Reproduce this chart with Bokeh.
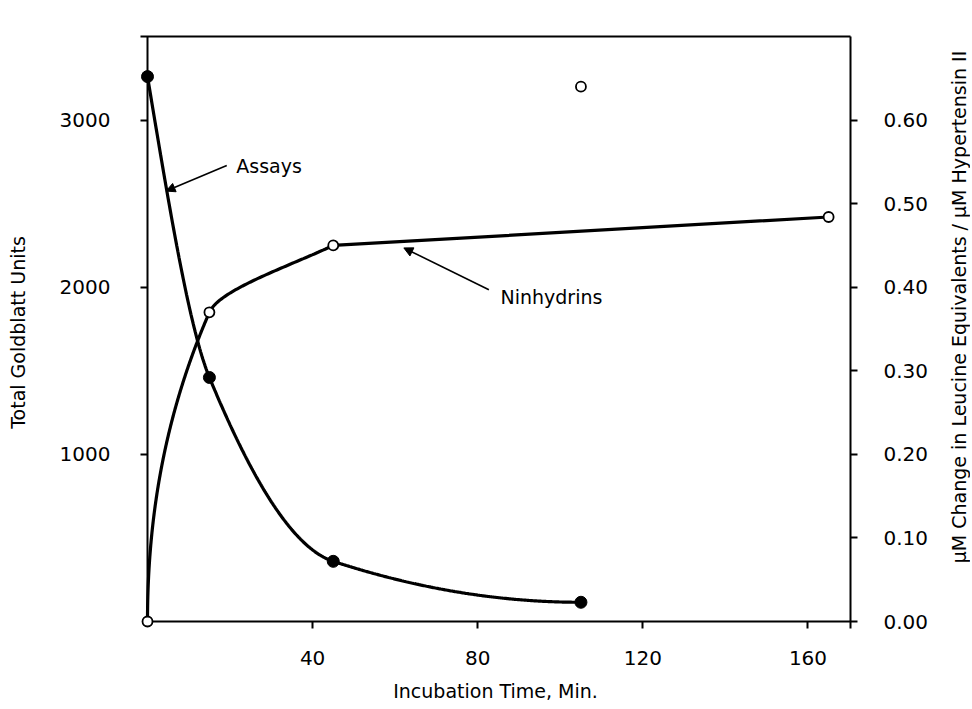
import numpy as np
from bokeh.plotting import figure
from bokeh.layouts import row
from bokeh.models import Range1d, LinearAxis, FixedTicker, NumeralTickFormatter, Arrow, NormalHead, Label
from bokeh.embed import file_html
from bokeh.resources import INLINE

# ---- data ----
assay_time = [0, 15, 45, 105]
assay_units = [3260, 1460, 360, 115]
nin_time = [0, 15, 45, 105, 165]
nin_change = [0.0, 0.37, 0.45, 0.64, 0.484]
x_ticks = [40, 80, 120, 160]
left_ticks = [1000, 2000, 3000]
right_ticks = [0.0, 0.1, 0.2, 0.3, 0.4, 0.5, 0.6]
right_title = "\u03bcM Change in Leucine Equivalents / \u03bcM Hypertensin II"

XMAX, YMAX, RMAX = 170.3, 3500.0, 0.70
FONT = "DejaVu Sans"

# layout (pixels)
BOX_W, BOX_H, PAD = 703, 585, 7     # drawn box size, and space left/below it so edge markers are not cut
X0 = -PAD * XMAX / BOX_W
Y0 = -PAD * YMAX / BOX_H
R0 = -PAD * RMAX / BOX_H
STRIP_W, STRIP_H = 38, 700          # narrow strip at the right that carries the right-hand title


def pchip(x, y, xq):
    x = np.asarray(x, float); y = np.asarray(y, float); xq = np.asarray(xq, float)
    h = np.diff(x); d = np.diff(y) / h
    n = len(x); m = np.zeros(n)
    for k in range(1, n - 1):
        if d[k - 1] * d[k] > 0:
            w1 = 2 * h[k] + h[k - 1]; w2 = h[k] + 2 * h[k - 1]
            m[k] = (w1 + w2) / (w1 / d[k - 1] + w2 / d[k])

    def end(h0, h1, d0, d1):
        mm = ((2 * h0 + h1) * d0 - h0 * d1) / (h0 + h1)
        if np.sign(mm) != np.sign(d0):
            return 0.0
        if np.sign(d0) != np.sign(d1) and abs(mm) > 3 * abs(d0):
            return 3 * d0
        return mm
    m[0] = end(h[0], h[1], d[0], d[1])
    m[-1] = end(h[-1], h[-2], d[-1], d[-2])
    idx = np.clip(np.searchsorted(x, xq) - 1, 0, n - 2)
    hh = h[idx]; t = (xq - x[idx]) / hh
    h00 = 2 * t**3 - 3 * t**2 + 1; h10 = t**3 - 2 * t**2 + t
    h01 = -2 * t**3 + 3 * t**2; h11 = t**3 - t**2
    return h00 * y[idx] + h10 * hh * m[idx] + h01 * y[idx + 1] + h11 * hh * m[idx + 1]


# smooth assay curve through the assay points
ax = np.linspace(assay_time[0], assay_time[-1], 400)
ay = pchip(assay_time, assay_units, ax)

# ninhydrin curve: smooth rise through first three points, then straight to last point
ny_param = np.linspace(nin_change[0], nin_change[2], 400)
nx = pchip(nin_change[:3], nin_time[:3], ny_param)
nin_curve_x = list(nx) + [nin_time[4]]
nin_curve_y = list(ny_param) + [nin_change[4]]

p = figure(frame_width=BOX_W + PAD, frame_height=BOX_H + PAD,
           output_backend="svg", toolbar_location=None,
           x_range=Range1d(X0, XMAX), y_range=Range1d(Y0, YMAX),
           min_border_left=140, min_border_right=82, min_border_top=36, min_border_bottom=70,
           x_axis_label="Incubation Time, Min.", y_axis_label="Total Goldblatt Units")
p.extra_y_ranges = {"nin": Range1d(R0, RMAX)}
p.grid.visible = False
p.outline_line_color = None
p.background_fill_color = "white"
p.border_fill_color = "white"

baxis = p.below[0]
laxis = p.left[0]
raxis = LinearAxis(y_range_name="nin")
p.add_layout(raxis, "right")
taxis = LinearAxis(ticker=FixedTicker(ticks=[]))
p.add_layout(taxis, "above")

baxis.ticker = FixedTicker(ticks=x_ticks)
laxis.ticker = FixedTicker(ticks=left_ticks)
raxis.ticker = FixedTicker(ticks=right_ticks)
raxis.formatter = NumeralTickFormatter(format="0.00")

for a in [baxis, laxis, raxis, taxis]:
    a.axis_line_width = 2
    a.axis_line_color = "black"
    a.major_tick_line_width = 2
    a.minor_tick_line_color = None
    a.major_label_text_font = FONT
    a.major_label_text_font_size = "20px"
    a.major_label_text_font_style = "normal"
    a.major_label_text_color = "black"
    a.axis_label_text_font = FONT
    a.axis_label_text_font_size = "19px"
    a.axis_label_text_font_style = "normal"
    a.axis_label_text_color = "black"

# left & bottom axes sit PAD px outside the box: ticks point inward up to the box line
for a in [baxis, laxis]:
    a.axis_line_color = None
    a.major_tick_in = PAD
    a.major_tick_out = 0
raxis.major_tick_in = 0
raxis.major_tick_out = 7
taxis.major_tick_in = 0
taxis.major_tick_out = 0

baxis.major_label_standoff = 22
baxis.axis_label_standoff = 12
laxis.major_label_standoff = 30
laxis.axis_label_standoff = 28
raxis.major_label_standoff = 26

# box lines at x = 0 and y = 0
p.segment(x0=[0, 0], y0=[0, 0], x1=[0, XMAX], y1=[YMAX, 0],
          line_color="black", line_width=2, line_cap="square")

# curves
p.line(ax, ay, line_color="black", line_width=3.2)
p.line(nin_curve_x, nin_curve_y, y_range_name="nin", line_color="black", line_width=3.2)

# points
p.scatter(assay_time, assay_units, marker="circle", size=12, fill_color="black", line_color="black")
p.scatter(nin_time, nin_change, y_range_name="nin", marker="circle", size=10,
          fill_color="white", line_color="black", line_width=1.8)

# annotations
p.add_layout(Arrow(end=NormalHead(size=9, fill_color="black", line_color="black", line_width=1),
                   x_start=19.2, y_start=2728, x_end=4.5, y_end=2575, line_width=1.6))
p.add_layout(Label(x=21.5, y=2728, text="Assays", text_baseline="middle",
                   text_font=FONT, text_font_size="19px", text_color="black"))
p.add_layout(Arrow(end=NormalHead(size=9, fill_color="black", line_color="black", line_width=1),
                   x_start=82.7, y_start=0.397, x_end=62.1, y_end=0.447,
                   y_range_name="nin", line_width=1.6))
p.add_layout(Label(x=85.5, y=0.388, y_range_name="nin", text="Ninhydrins", text_baseline="middle",
                   text_font=FONT, text_font_size="19px", text_color="black"))

# right-hand title, reading bottom to top, in a narrow strip beside the plot
strip = figure(width=STRIP_W, height=STRIP_H, output_backend="svg", toolbar_location=None,
               x_range=Range1d(0, STRIP_W), y_range=Range1d(0, STRIP_H), min_border=0)
strip.axis.visible = False
strip.grid.visible = False
strip.outline_line_color = None
strip.background_fill_color = "white"
strip.border_fill_color = "white"
strip.add_layout(Label(x=STRIP_W - 12, y=STRIP_H - 322, angle=np.pi / 2, text=right_title,
                       text_align="center", text_baseline="middle",
                       text_font=FONT, text_font_size="19px", text_color="black"))

layout = row(p, strip, spacing=0)
open("out.html", "w").write(file_html(layout, INLINE))
